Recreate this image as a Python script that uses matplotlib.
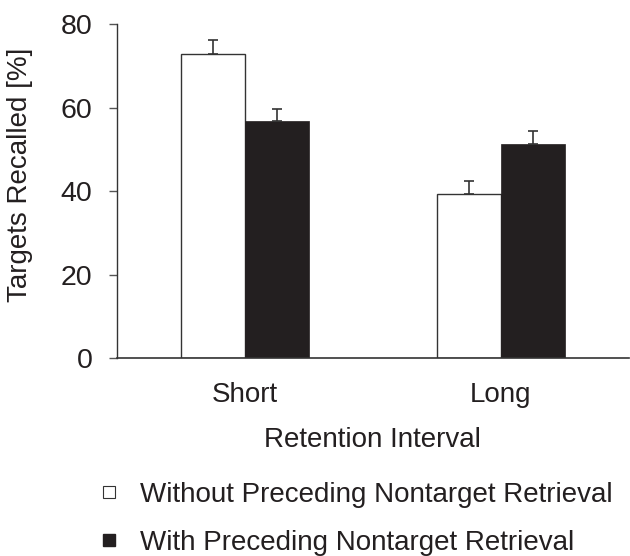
import matplotlib
matplotlib.use("Agg")
import matplotlib.pyplot as plt
from matplotlib.lines import Line2D
import numpy as np

plt.rcParams['font.family'] = ['Liberation Sans', 'DejaVu Sans']

categories = ["Short", "Long"]
series_names = ["Without Preceding Nontarget Retrieval", "With Preceding Nontarget Retrieval"]
without_vals = [73.0, 39.3]
without_err = [3.3, 3.1]
with_vals = [56.9, 51.3]
with_err = [2.8, 3.2]
y_ticks = [0, 20, 40, 60, 80]

dark = "#231f20"
fig = plt.figure(figsize=(6.3, 5.56), dpi=100)
ax = fig.add_axes([0.1857, 0.3556, 0.8123, 0.6007])

x = np.arange(len(categories))
w = 0.25
ax.bar(x - w/2, without_vals, w, color="white", edgecolor="#333333", linewidth=1.0, zorder=2)
ax.bar(x + w/2, with_vals, w, color=dark, edgecolor=dark, linewidth=0.5, zorder=2)
ax.errorbar(x - w/2, without_vals, yerr=[np.zeros(2), without_err], fmt='none',
            ecolor="#333333", elinewidth=1.2, capsize=3.5, capthick=1.2, zorder=3)
ax.errorbar(x + w/2, with_vals, yerr=[np.zeros(2), with_err], fmt='none',
            ecolor="#333333", elinewidth=1.2, capsize=3.5, capthick=1.2, zorder=3)

ax.set_xlim(-0.5, 1.5)
ax.set_ylim(0, 80)
ax.set_yticks(y_ticks)
ax.set_xticks(x)
ax.set_xticklabels(categories)
ax.tick_params(axis='x', length=0, pad=17, labelsize=20, colors=dark)
ax.tick_params(axis='y', length=5.8, width=1, direction='out', pad=12, labelsize=20.5,
               colors=dark, color="#555555")
for s in ['top', 'right']:
    ax.spines[s].set_visible(False)
ax.spines['left'].set_color("#333333")
ax.spines['bottom'].set_color("#333333")
ax.spines['left'].set_linewidth(1.0)
ax.spines['bottom'].set_linewidth(1.2)

ax.set_ylabel("Targets Recalled [%]", fontsize=20, color=dark)
ax.yaxis.set_label_coords(-0.164, 0.549)
ax.set_xlabel("Retention Interval", fontsize=20, color=dark, labelpad=14)

handles = [Line2D([], [], marker='s', linestyle='none', markersize=9,
                  markerfacecolor='white', markeredgecolor='#333333', markeredgewidth=0.8),
           Line2D([], [], marker='s', linestyle='none', markersize=9,
                  markerfacecolor=dark, markeredgecolor=dark)]
fig.legend(handles, series_names, loc='upper left', bbox_to_anchor=(0.151, 0.133),
           frameon=False, fontsize=20, handlelength=1.0, handletextpad=0.6,
           labelspacing=0.78, borderaxespad=0, borderpad=0, labelcolor=dark)

fig.savefig("out.png", dpi=100)
